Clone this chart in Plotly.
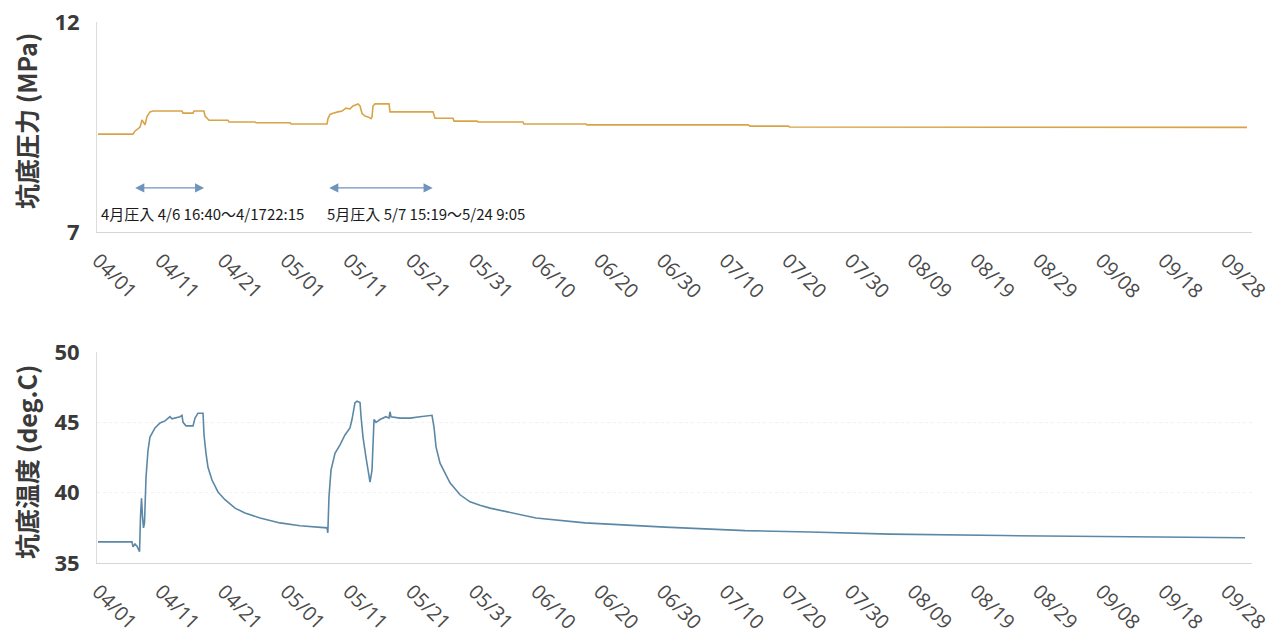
import plotly.graph_objects as go
from plotly.subplots import make_subplots

# Bottom-hole pressure (MPa)
pressure_time = [
    "2013-04-01 00:00", "2013-04-06 14:00", "2013-04-06 21:00", "2013-04-07 05:00",
    "2013-04-07 17:00", "2013-04-08 00:30", "2013-04-08 08:00", "2013-04-08 12:00",
    "2013-04-08 19:30", "2013-04-09 07:00", "2013-04-09 18:30", "2013-04-14 09:30",
    "2013-04-14 13:30", "2013-04-16 03:30", "2013-04-16 07:30", "2013-04-17 21:40",
    "2013-04-18 01:40", "2013-04-18 09:00", "2013-04-18 17:00", "2013-04-21 17:30",
    "2013-04-21 21:30", "2013-04-26 01:00", "2013-04-26 05:00", "2013-05-01 15:00",
    "2013-05-01 19:00", "2013-05-07 12:30", "2013-05-07 16:20", "2013-05-08 00:00",
    "2013-05-08 11:30", "2013-05-09 06:40", "2013-05-09 22:00", "2013-05-10 13:00",
    "2013-05-11 04:30", "2013-05-11 16:00", "2013-05-12 03:30", "2013-05-12 11:20",
    "2013-05-12 19:00", "2013-05-13 02:40", "2013-05-13 14:00", "2013-05-14 01:30",
    "2013-05-14 13:00", "2013-05-14 16:50", "2013-05-14 20:40", "2013-05-15 04:20",
    "2013-05-17 10:00", "2013-05-17 13:40", "2013-05-24 10:20", "2013-05-24 18:00",
    "2013-05-27 15:00", "2013-05-27 18:40", "2013-05-31 11:00", "2013-05-31 14:40",
    "2013-06-07 18:40", "2013-06-07 22:30", "2013-06-17 20:00", "2013-06-18 00:00",
    "2013-07-13 16:00", "2013-07-13 23:40", "2013-07-20 01:10", "2013-07-20 09:00",
    "2013-10-01 06:00",
]
pressure_mpa = [
    9.33, 9.33, 9.40, 9.45,
    9.50, 9.67, 9.58, 9.55,
    9.75, 9.86, 9.88, 9.88,
    9.83, 9.83, 9.88, 9.88,
    9.76, 9.71, 9.66, 9.66,
    9.62, 9.62, 9.60, 9.60,
    9.57, 9.57, 9.70, 9.80,
    9.83, 9.86, 9.88, 9.95,
    9.93, 10.00, 10.02, 10.05,
    10.00, 9.82, 9.76, 9.74,
    9.70, 9.74, 10.00, 10.05,
    10.05, 9.86, 9.86, 9.71,
    9.71, 9.64, 9.64, 9.62,
    9.62, 9.57, 9.57, 9.55,
    9.55, 9.52, 9.52, 9.50,
    9.49,
]

# Bottom-hole temperature (deg.C)
temp_time = [
    "2013-04-01 00:00", "2013-04-06 10:00", "2013-04-06 14:00", "2013-04-06 21:40",
    "2013-04-07 05:20", "2013-04-07 15:00", "2013-04-07 18:40", "2013-04-07 22:30",
    "2013-04-08 02:20", "2013-04-08 06:10", "2013-04-08 10:00", "2013-04-08 15:50",
    "2013-04-08 23:20", "2013-04-09 07:00", "2013-04-10 02:10", "2013-04-10 21:20",
    "2013-04-11 16:30", "2013-04-12 04:00", "2013-04-12 11:30", "2013-04-12 19:10",
    "2013-04-14 02:00", "2013-04-14 09:30", "2013-04-14 13:30", "2013-04-15 01:00",
    "2013-04-16 03:40", "2013-04-16 11:20", "2013-04-16 22:50", "2013-04-17 18:00",
    "2013-04-17 21:50", "2013-04-18 05:20", "2013-04-18 13:00", "2013-04-19 04:20",
    "2013-04-20 03:20", "2013-04-21 06:10", "2013-04-22 20:30", "2013-04-24 10:30",
    "2013-04-26 20:10", "2013-04-30 00:40", "2013-05-03 05:20", "2013-05-07 12:30",
    "2013-05-07 15:40", "2013-05-07 20:10", "2013-05-08 03:50", "2013-05-08 19:10",
    "2013-05-09 14:20", "2013-05-10 09:20", "2013-05-11 04:30", "2013-05-11 12:10",
    "2013-05-11 23:45", "2013-05-12 07:20", "2013-05-12 19:00", "2013-05-12 22:50",
    "2013-05-13 06:20", "2013-05-13 17:50", "2013-05-14 09:10", "2013-05-14 16:50",
    "2013-05-14 20:40", "2013-05-15 00:30", "2013-05-15 08:10", "2013-05-15 23:30",
    "2013-05-16 22:20", "2013-05-17 09:50", "2013-05-17 13:40", "2013-05-17 17:30",
    "2013-05-19 04:00", "2013-05-20 18:20", "2013-05-22 08:40", "2013-05-24 06:30",
    "2013-05-24 14:10", "2013-05-24 21:50", "2013-05-25 13:10", "2013-05-27 03:20",
    "2013-05-28 17:45", "2013-05-30 08:00", "2013-05-31 22:00", "2013-06-02 12:30",
    "2013-06-09 20:40", "2013-06-17 16:00", "2013-06-30 10:20", "2013-07-13 04:30",
    "2013-07-23 13:30", "2013-08-05 07:40", "2013-08-23 08:10", "2013-09-07 15:40",
    "2013-09-28 05:20", "2013-09-30 22:20",
]
temp_degc = [
    36.5, 36.5, 36.15, 36.35,
    36.2, 35.8, 38.3, 39.6,
    38.3, 37.5, 37.85, 41.1,
    43.0, 43.95, 44.6, 44.95,
    45.1, 45.3, 45.4, 45.25,
    45.4, 45.5, 45.0, 44.75,
    44.75, 45.3, 45.65, 45.65,
    44.1, 42.8, 41.8, 40.9,
    40.05, 39.5, 38.9, 38.55,
    38.2, 37.85, 37.65, 37.5,
    37.15, 39.7, 41.6, 42.8,
    43.4, 44.1, 44.6, 45.2,
    46.4, 46.5, 46.4, 45.4,
    43.95, 42.5, 40.75, 41.6,
    43.95, 45.2, 45.0, 45.2,
    45.4, 45.3, 45.75, 45.4,
    45.3, 45.3, 45.4, 45.5,
    44.65, 43.25, 42.1, 40.7,
    39.85, 39.35, 39.1, 38.9,
    38.2, 37.85, 37.55, 37.3,
    37.2, 37.05, 36.95, 36.9,
    36.85, 36.8,
]

# Date ticks every 10 days
tick_dates = [
    "2013-04-01", "2013-04-11", "2013-04-21", "2013-05-01", "2013-05-11",
    "2013-05-21", "2013-05-31", "2013-06-10", "2013-06-20", "2013-06-30",
    "2013-07-10", "2013-07-20", "2013-07-30", "2013-08-09", "2013-08-19",
    "2013-08-29", "2013-09-08", "2013-09-18", "2013-09-28",
]
tick_labels = [d[5:7] + "/" + d[8:10] for d in tick_dates]

# Injection periods
injection_spans = [
    ("2013-04-06 16:40", "2013-04-17 22:15"),
    ("2013-05-07 15:19", "2013-05-24 09:05"),
]
injection_labels = [
    "4月圧入 4/6 16:40〜4/1722:15",
    "5月圧入 5/7 15:19〜5/24 9:05",
]

pressure_range = [7, 12]
pressure_ticks = [7, 12]
temp_range = [35, 50]
temp_ticks = [35, 40, 45, 50]

x_range = ["2013-03-31 20:10", "2013-10-02 01:10"]

W, H = 1287, 641
ML, MR, MT, MB = 97, 35, 22, 78
plot_h = H - MT - MB

fig = make_subplots(rows=2, cols=1, shared_xaxes=False, vertical_spacing=0.05)

fig.add_trace(go.Scatter(
    x=pressure_time, y=pressure_mpa, mode="lines",
    line=dict(color="#d8a447", width=1.6), showlegend=False,
), row=1, col=1)

fig.add_trace(go.Scatter(
    x=temp_time, y=temp_degc, mode="lines",
    line=dict(color="#5b88a6", width=1.6), showlegend=False,
), row=2, col=1)

num_font = dict(family="Open Sans, Liberation Sans, sans-serif", size=22,
                color="#3a3a3a", weight="bold")
date_font = dict(family="Open Sans, Liberation Sans, sans-serif", size=20,
                 color="#4a4a4a")

xaxis_common = dict(
    type="date", range=x_range, tickvals=tick_dates, ticktext=tick_labels,
    tickangle=45, tickfont=date_font, showgrid=False, zeroline=False,
    showline=True, linecolor="#d6d6d6", linewidth=1, ticks="",
    ticklabelstandoff=8, automargin=False,
)
fig.update_xaxes(**xaxis_common, row=1, col=1)
fig.update_xaxes(**xaxis_common, row=2, col=1)

fig.update_yaxes(
    range=pressure_range, tickvals=pressure_ticks, ticks="", tickfont=num_font,
    showgrid=True, gridcolor="#dcdcdc", griddash="dot", gridwidth=1,
    showline=True, linecolor="#dcdcdc", zeroline=False,
    ticklabelstandoff=12, automargin=False, row=1, col=1,
)
fig.update_yaxes(
    range=temp_range, tickvals=temp_ticks, ticks="", tickfont=num_font,
    showgrid=True, gridcolor="#f1f1f1", griddash="dot", gridwidth=1,
    showline=True, linecolor="#dcdcdc", zeroline=False,
    ticklabelstandoff=12, automargin=False, row=2, col=1,
)

# Panel placement
top_lo = (H - MB - 232) / plot_h
bot_hi = (H - MB - 352) / plot_h
fig.update_layout(
    xaxis=dict(domain=[0, 1]), xaxis2=dict(domain=[0, 1]),
    yaxis=dict(domain=[top_lo, 1.0]), yaxis2=dict(domain=[0.0, bot_hi]),
)

annotations = []
# Axis titles
title_font = dict(family="Noto Sans CJK JP, sans-serif", size=25, color="#3a3a3a",
                  weight="bold")
title_x = -71 / (W - ML - MR)
annotations.append(dict(
    text="坑底圧力 (MPa)", textangle=-90, xref="paper", yref="paper",
    x=title_x, y=(H - MB - 121) / plot_h, xanchor="center", yanchor="middle",
    showarrow=False, font=title_font,
))
annotations.append(dict(
    text="坑底温度 (deg.C)", textangle=-90, xref="paper", yref="paper",
    x=title_x, y=(H - MB - 462) / plot_h, xanchor="center", yanchor="middle",
    showarrow=False, font=title_font,
))

# Injection period arrows and captions
arrow_y = 8.05
for (t0, t1) in injection_spans:
    annotations.append(dict(
        x=t1, y=arrow_y, ax=t0, ay=arrow_y, xref="x", yref="y", axref="x", ayref="y",
        text="", showarrow=True, arrowhead=2, startarrowhead=2, arrowside="end+start",
        arrowsize=1.3, startarrowsize=1.3, arrowwidth=1.4, arrowcolor="#6f93bd",
        standoff=0, startstandoff=0,
    ))

caption_font = dict(family="Noto Sans CJK JP, sans-serif", size=15, color="#1a1a1a")
caption_x = ["2013-04-01 04:00", "2013-05-07 05:00"]
for cx, label in zip(caption_x, injection_labels):
    annotations.append(dict(
        x=cx, y=7.45, xref="x", yref="y", text=label, showarrow=False,
        xanchor="left", yanchor="middle", font=caption_font,
    ))

fig.update_layout(
    width=W, height=H,
    margin=dict(l=ML, r=MR, t=MT, b=MB),
    paper_bgcolor="white", plot_bgcolor="white",
    annotations=annotations, showlegend=False,
)

fig.write_html("out.html", config={"displayModeBar": False})
